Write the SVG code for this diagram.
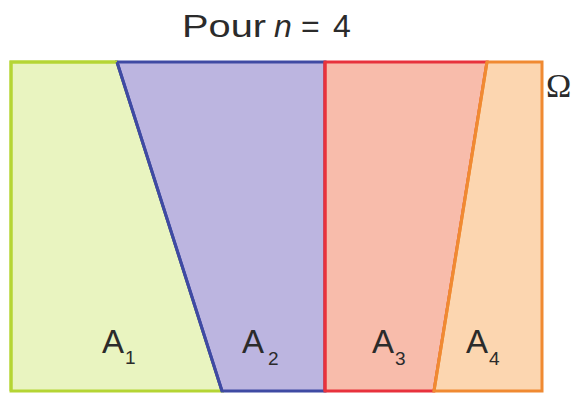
<svg xmlns="http://www.w3.org/2000/svg" width="576" height="394" viewBox="0 0 576 394">
<style>
  .lbl { font-family: "Liberation Sans", Arial, sans-serif; fill: #2b2b2b; }
  .main { font-size: 33px; }
  .sub { font-size: 19px; }
  .part { stroke-width: 3; stroke-linejoin: miter; }
</style>
<rect width="576" height="394" fill="#ffffff"/>
<text class="lbl" x="182" y="37" font-size="32" textLength="84" lengthAdjust="spacingAndGlyphs">Pour</text>
<text class="lbl" x="274" y="37" font-size="32" font-style="italic">n</text>
<text class="lbl" x="301" y="37" font-size="32">=</text>
<text class="lbl" x="333" y="37" font-size="32">4</text>
<g id="A1">
  <polygon class="part" points="11,62 117,62 222,391 11,391" fill="#e9f4c0" stroke="#b5d534"/>
</g>
<g id="A2">
  <polygon class="part" points="117,62 325,62 325,391 222,391" fill="#bcb5e0" stroke="#3f4aa3"/>
</g>
<g id="A3">
  <polygon class="part" points="325,62 487,62 434,391 325,391" fill="#f8bcab" stroke="#e8323d"/>
</g>
<g id="A4">
  <polygon class="part" points="487,62 542,62 542,391 434,391" fill="#fcd6b0" stroke="#f08a32"/>
</g>
<g id="connectors">
  <polyline points="11,391 11,62 117,62" fill="none" stroke="#b5d534" stroke-width="3"/>
  <line x1="117" y1="62" x2="222" y2="391" stroke="#3f4aa3" stroke-width="3"/>
  <line x1="325" y1="62" x2="325" y2="391" stroke="#e8323d" stroke-width="3"/>
  <line x1="487" y1="62" x2="434" y2="391" stroke="#f08a32" stroke-width="3"/>
</g>
<g id="labels">
  <text class="lbl main" x="102" y="353">A</text><text class="lbl sub" x="125" y="364">1</text>
  <text class="lbl main" x="242" y="353">A</text><text class="lbl sub" x="268" y="365">2</text>
  <text class="lbl main" x="372" y="353">A</text><text class="lbl sub" x="395" y="365">3</text>
  <text class="lbl main" x="466" y="353">A</text><text class="lbl sub" x="489" y="365">4</text>
</g>
<text x="546" y="97" font-family="'Liberation Serif', 'Times New Roman', serif" font-size="34" fill="#2b2b2b">Ω</text>
</svg>
